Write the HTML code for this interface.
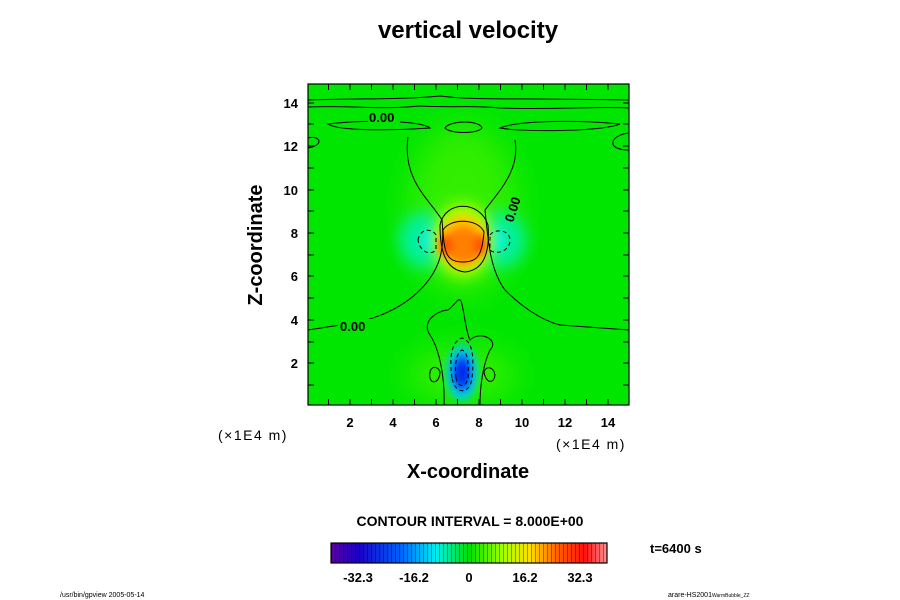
<!DOCTYPE html>
<html><head><meta charset="utf-8"><style>
body{margin:0;background:#fff;}
svg{display:block;font-family:"Liberation Sans",sans-serif;}
</style></head><body>
<svg width="900" height="600" viewBox="0 0 900 600" xmlns="http://www.w3.org/2000/svg">
<defs>
<filter id="b8" x="-50%" y="-50%" width="200%" height="200%"><feGaussianBlur stdDeviation="8"/></filter>
<filter id="b4" x="-50%" y="-50%" width="200%" height="200%"><feGaussianBlur stdDeviation="4"/></filter>
<filter id="b15" x="-50%" y="-50%" width="200%" height="200%"><feGaussianBlur stdDeviation="15"/></filter>
<clipPath id="cp"><rect x="308" y="84" width="321" height="321"/></clipPath>
<linearGradient id="cb" x1="0" x2="1">
<stop offset="0" stop-color="#5a00a0"/><stop offset="0.1" stop-color="#1a00c8"/>
<stop offset="0.25" stop-color="#0060ff"/><stop offset="0.38" stop-color="#00f0f0"/>
<stop offset="0.5" stop-color="#00e000"/><stop offset="0.62" stop-color="#a0ff00"/>
<stop offset="0.72" stop-color="#ffe000"/><stop offset="0.82" stop-color="#ff6000"/>
<stop offset="0.92" stop-color="#ff1010"/><stop offset="1" stop-color="#ff9090"/>
</linearGradient>
<pattern id="st" width="4" height="20" patternUnits="userSpaceOnUse"><rect x="3" width="1" height="20" fill="#000" opacity="0.35"/></pattern>
</defs>
<text x="468" y="38" text-anchor="middle" font-size="24" font-weight="bold">vertical velocity</text>
<g clip-path="url(#cp)">
<rect x="308" y="84" width="321" height="321" fill="#00e600"/>
<ellipse cx="463" cy="210" rx="55" ry="85" fill="#30ee00" filter="url(#b15)"/>
<ellipse cx="462" cy="375" rx="55" ry="28" fill="#30ee00" filter="url(#b15)"/>
<ellipse cx="425" cy="240" rx="26" ry="28" fill="#00f0a0" filter="url(#b8)"/>
<ellipse cx="500" cy="240" rx="26" ry="28" fill="#00f0a0" filter="url(#b8)"/>
<ellipse cx="430" cy="240" rx="8" ry="12" fill="#00f0f0" filter="url(#b4)"/>
<ellipse cx="496" cy="240" rx="8" ry="12" fill="#00f0f0" filter="url(#b4)"/>
<ellipse cx="463" cy="240" rx="30" ry="36" fill="#c0ff00" filter="url(#b8)"/>
<ellipse cx="463" cy="242" rx="24" ry="26" fill="#ffc000" filter="url(#b4)"/>
<ellipse cx="463" cy="245" rx="18" ry="18" fill="#ff8000" filter="url(#b4)"/>
<ellipse cx="446" cy="245" rx="6" ry="10" fill="#ff5000" filter="url(#b4)"/>
<ellipse cx="480" cy="245" rx="6" ry="10" fill="#ff5000" filter="url(#b4)"/>
<ellipse cx="462" cy="373" rx="16" ry="28" fill="#00d0e0" filter="url(#b4)"/>
<ellipse cx="462" cy="373" rx="9" ry="18" fill="#0050ff" filter="url(#b4)"/>
<ellipse cx="462" cy="373" rx="4" ry="9" fill="#0010e0" filter="url(#b4)"/>
<g fill="none" stroke="#000" stroke-width="1">
<path d="M308,100 C360,98 400,100 440,96 C470,100 500,98 629,100"/>
<path d="M308,107 C350,105 380,110 420,106 C460,108 470,105 500,108 C560,110 600,106 629,108"/>
<path d="M328,124 C360,120 420,120 430,128 C400,130 340,132 328,124 Z"/>
<path d="M445,128 C450,120 480,120 482,128 C478,134 450,134 445,128Z"/>
<path d="M500,128 C520,120 580,120 620,124 C600,132 520,132 500,128Z"/>
<path d="M308,138 C320,135 325,145 308,148"/>
<path d="M629,133 C610,135 605,150 629,150"/>
<path d="M408,137 C402,180 430,200 442,220 C445,250 440,270 420,290 C400,310 370,322 340,325 L308,330"/>
<path d="M515,140 C520,170 500,190 485,210 C488,240 490,270 505,290 C520,305 540,320 560,325 L629,330"/>
<path d="M440,225 C445,200 480,200 488,225 C490,250 485,270 465,272 C445,270 440,250 440,225Z"/>
<path d="M443,230 C450,218 478,218 484,232 C482,255 478,262 463,262 C448,262 444,255 443,230Z"/>
<path d="M452,378 C448,350 455,340 462,338 C470,340 475,350 472,378 C470,395 455,395 452,378Z" stroke-dasharray="4,3"/>
<path d="M456,378 C454,360 458,352 462,350 C467,352 469,360 468,378 C466,388 458,388 456,378Z" stroke-dasharray="4,3"/>
<path d="M418,240 C420,228 432,228 436,235 L436,250 C430,256 420,252 418,240Z" stroke-dasharray="4,3"/>
<path d="M490,235 C495,228 510,230 510,240 C510,252 495,255 490,250Z" stroke-dasharray="4,3"/>
<path d="M430,378 C428,365 438,365 440,372 C440,382 432,385 430,378Z"/>
<path d="M484,372 C486,365 494,367 495,375 C494,384 486,384 484,372Z"/>
<path d="M444,405 C445,380 440,350 430,335 C420,320 440,310 448,310 C455,305 458,298 460,300 C463,300 465,330 470,340 C480,330 500,340 490,350 C485,360 480,380 480,405"/>
</g>
<rect x="368" y="110" width="32" height="14" fill="#00e600"/>
<text x="369" y="122" font-size="13" font-weight="bold">0.00</text>
<rect x="338" y="319" width="34" height="14" fill="#00e600"/>
<text x="340" y="331" font-size="13" font-weight="bold">0.00</text>
<text x="500" y="225" font-size="13" font-weight="bold" transform="rotate(-72 505 215)">0.00</text>
</g>
<rect x="308" y="84" width="321" height="321" fill="none" stroke="#000" stroke-width="1.2"/>
<g stroke="#000" stroke-width="1">
<path d="M328.5,405v-6M350,405v-6M371.5,405v-6M393,405v-6M414.5,405v-6M436,405v-6M457.5,405v-6M479,405v-6M500.5,405v-6M522,405v-6M543.5,405v-6M565,405v-6M586.5,405v-6M608,405v-6"/>
<path d="M328.5,84v6M350,84v6M371.5,84v6M393,84v6M414.5,84v6M436,84v6M457.5,84v6M479,84v6M500.5,84v6M522,84v6M543.5,84v6M565,84v6M586.5,84v6M608,84v6"/>
<path d="M308,385h6M308,363h6M308,342h6M308,320h6M308,298h6M308,276h6M308,255h6M308,233h6M308,211h6M308,190h6M308,168h6M308,146h6M308,124h6M308,103h6"/>
<path d="M629,385h-6M629,363h-6M629,342h-6M629,320h-6M629,298h-6M629,276h-6M629,255h-6M629,233h-6M629,211h-6M629,190h-6M629,168h-6M629,146h-6M629,124h-6M629,103h-6"/>
</g>
<g font-size="13" font-weight="bold" text-anchor="middle">
<text x="350" y="427">2</text><text x="393" y="427">4</text><text x="436" y="427">6</text><text x="479" y="427">8</text><text x="522" y="427">10</text><text x="565" y="427">12</text><text x="608" y="427">14</text>
</g>
<g font-size="13" font-weight="bold" text-anchor="end">
<text x="298" y="368">2</text><text x="298" y="325">4</text><text x="298" y="281">6</text><text x="298" y="238">8</text><text x="298" y="195">10</text><text x="298" y="151">12</text><text x="298" y="108">14</text>
</g>
<text x="218" y="440" font-size="14" letter-spacing="1.5">(×1E4 m)</text>
<text x="556" y="449" font-size="14" letter-spacing="1.5">(×1E4 m)</text>
<text x="468" y="478" text-anchor="middle" font-size="20" font-weight="bold">X-coordinate</text>
<text x="262" y="245" text-anchor="middle" font-size="20" font-weight="bold" transform="rotate(-90 262 245)">Z-coordinate</text>
<text x="470" y="526" text-anchor="middle" font-size="14" font-weight="bold">CONTOUR INTERVAL = 8.000E+00</text>
<rect x="331" y="543" width="276" height="20" fill="url(#cb)"/>
<rect x="331" y="543" width="276" height="20" fill="url(#st)"/>
<rect x="331" y="543" width="276" height="20" fill="none" stroke="#000" stroke-width="1.2"/>
<g font-size="13" font-weight="bold" text-anchor="middle">
<text x="358" y="582">-32.3</text><text x="414" y="582">-16.2</text><text x="469" y="582">0</text><text x="525" y="582">16.2</text><text x="580" y="582">32.3</text>
</g>
<text x="650" y="553" font-size="13" font-weight="bold">t=6400 s</text>
<text x="60" y="597" font-size="7">/usr/bin/gpview 2005-05-14</text>
<text x="668" y="597" font-size="7">arare-HS2001<tspan font-size="5">WarmBubble_ZZ</tspan></text>
</svg>
</body></html>
